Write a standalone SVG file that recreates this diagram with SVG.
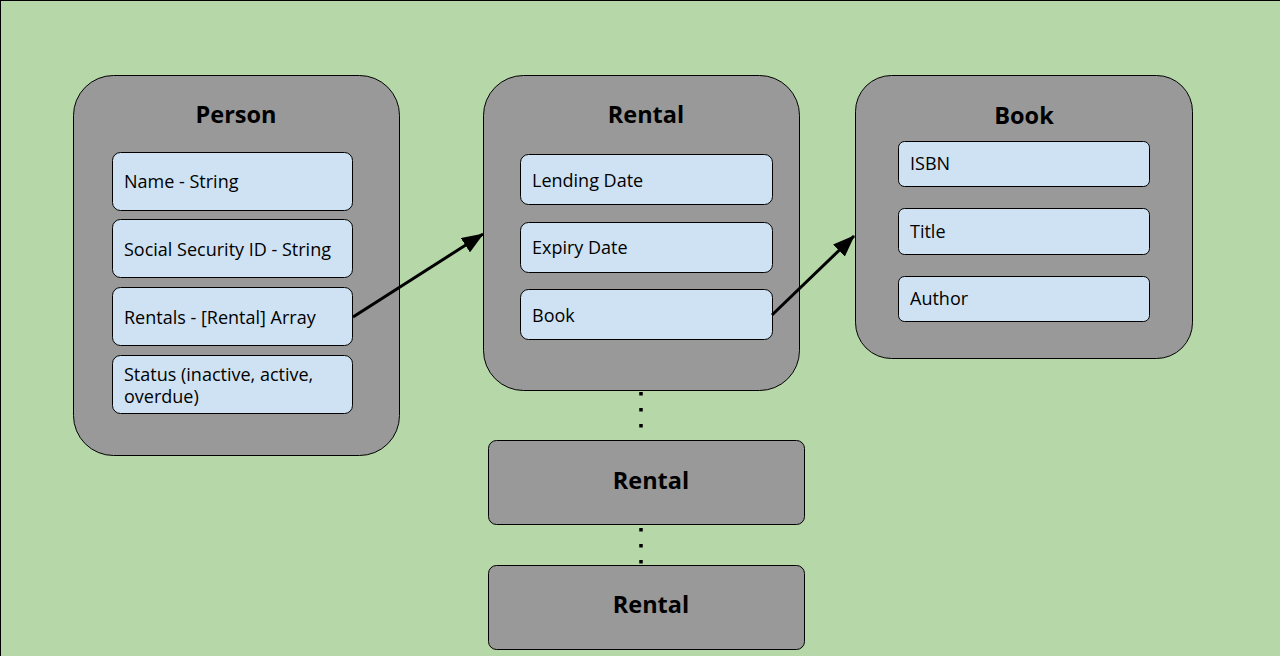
<svg xmlns="http://www.w3.org/2000/svg" width="1280" height="656" viewBox="0 0 1280 656">
<defs>
<style>
.bg{fill:#b6d7a8;stroke:#000;stroke-width:2}
.card{fill:#999999;stroke:#000;stroke-width:1}
.field{fill:#cfe2f3;stroke:#000;stroke-width:1}
.title{font-family:"Open Sans","Noto Sans",sans-serif;font-weight:bold;font-size:23.5px;fill:#000;text-anchor:middle}
.txt{font-family:"Open Sans","Noto Sans",sans-serif;font-size:18px;fill:#000}
.conn{stroke:#000;stroke-width:3;fill:none}
.dots{stroke:#000;stroke-width:3.5;fill:none;stroke-dasharray:3.5 12.5}
</style>
<marker id="ah" viewBox="0 0 22 17" refX="21" refY="8.5" markerWidth="7.3" markerHeight="5.7" orient="auto" markerUnits="strokeWidth">
<path d="M0,0 L22,8.5 L0,17 z" fill="#000"/>
</marker>
</defs>
<rect class="bg" x="0" y="0" width="1290" height="670"/>

<g id="person">
<rect class="card" x="73.5" y="75.5" width="326" height="380" rx="40"/>
<text class="title" x="236" y="123">Person</text>
<rect class="field" x="112.5" y="152.5" width="240" height="58" rx="8"/>
<text class="txt" x="124" y="188">Name - String</text>
<rect class="field" x="112.5" y="219.5" width="240" height="58" rx="8"/>
<text class="txt" x="124" y="256">Social Security ID - String</text>
<rect class="field" x="112.5" y="287.5" width="240" height="58" rx="8"/>
<text class="txt" x="124" y="324">Rentals - [Rental] Array</text>
<rect class="field" x="112.5" y="355.5" width="240" height="58" rx="8"/>
<text class="txt" x="124" y="381">Status (inactive, active,</text>
<text class="txt" x="124" y="403">overdue)</text>
</g>

<g id="rental">
<rect class="card" x="483.5" y="75.5" width="316" height="315" rx="40"/>
<text class="title" x="646" y="123">Rental</text>
<rect class="field" x="520.5" y="154.5" width="252" height="50" rx="8"/>
<text class="txt" x="532" y="187">Lending Date</text>
<rect class="field" x="520.5" y="222.5" width="252" height="50" rx="8"/>
<text class="txt" x="532" y="254">Expiry Date</text>
<rect class="field" x="520.5" y="289.5" width="252" height="50" rx="8"/>
<text class="txt" x="532" y="322">Book</text>
</g>

<g id="book">
<rect class="card" x="855.5" y="75.5" width="337" height="283" rx="36"/>
<text class="title" x="1024" y="124">Book</text>
<rect class="field" x="898.5" y="141.5" width="251" height="45" rx="6"/>
<text class="txt" x="910" y="170">ISBN</text>
<rect class="field" x="898.5" y="208.5" width="251" height="46" rx="6"/>
<text class="txt" x="910" y="238">Title</text>
<rect class="field" x="898.5" y="276.5" width="251" height="45" rx="6"/>
<text class="txt" x="910" y="305">Author</text>
</g>

<g id="rental2">
<rect class="card" x="488.5" y="440.5" width="316" height="84" rx="8"/>
<text class="title" x="651" y="489">Rental</text>
</g>

<g id="rental3">
<rect class="card" x="488.5" y="565.5" width="316" height="84" rx="8"/>
<text class="title" x="651" y="613">Rental</text>
</g>

<g id="connectors">
<line class="conn" x1="353" y1="317" x2="483" y2="234" marker-end="url(#ah)"/>
<line class="conn" x1="772" y1="315" x2="854" y2="236" marker-end="url(#ah)"/>
<line class="dots" x1="641" y1="392" x2="641" y2="440"/>
<line class="dots" x1="641" y1="528" x2="641" y2="565"/>
</g>
</svg>
